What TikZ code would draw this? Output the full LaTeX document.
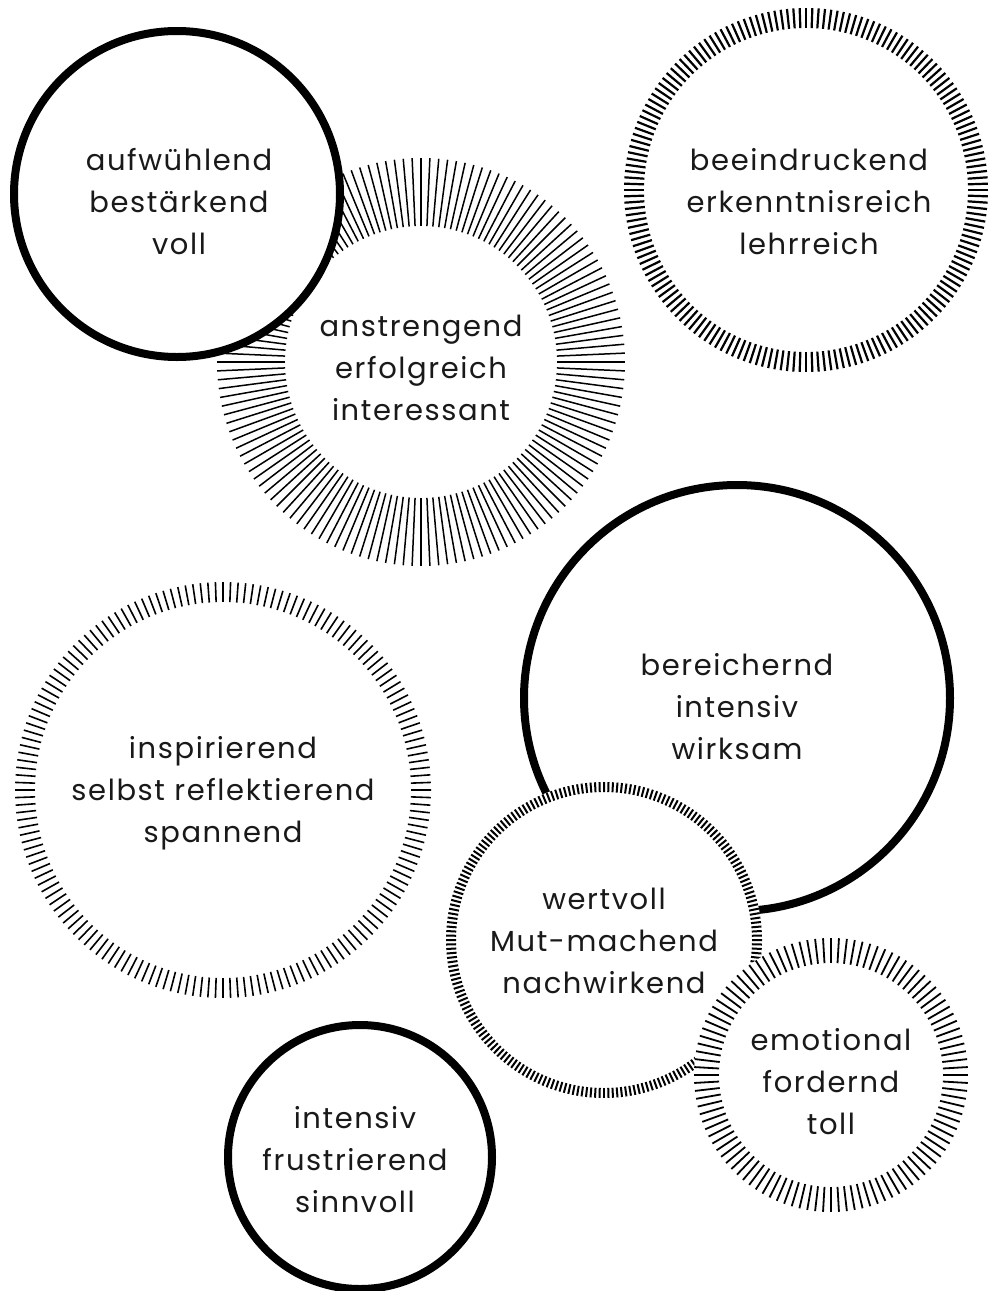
\documentclass[tikz,border=0pt]{standalone}
\usepackage{fontspec}
\setmainfont[LetterSpace=5.5]{Poppins}
\newcommand\tickring[7]{%
  \node[ringbase, minimum size=2*#5] (#1) at (#2,#3) {};
  \foreach \i in {1,...,#6}{
    \pgfmathsetmacro\ang{(360/#6)*\i}
    \draw[line width=#7] ([shift={(\ang:#4)}]#1.center) -- ([shift={(\ang:#5)}]#1.center);
  }
}
\tikzset{
  ringbase/.style={circle, fill=white, inner sep=0pt, outer sep=0pt},
  solidc/.style={circle, draw=black, fill=white, line width=8pt, inner sep=0pt, outer sep=0pt},
  txt/.style={align=center, font=\fontsize{29}{42}\selectfont, text=black!90, inner sep=0pt}
}
\begin{document}
\begin{tikzpicture}[x=1pt, y=-1pt]
\fill[white] (0,0) rectangle (988,1291);
\useasboundingbox (0,0) rectangle (988,1291);
% ring 2
\tickring{r2}{421}{362}{136}{204}{144}{1.5pt}
\node[txt] (t2) at (421,368) {anstrengend\\erfolgreich\\interessant};
% circle 1
\node[solidc, minimum size=326pt] (c1) at (177,194) {};
\node[txt] (t1) at (179,202) {aufwühlend\\bestärkend\\voll};
% ring 3
\tickring{r3}{806}{190}{162}{182}{180}{2.2pt}
\node[txt] (t3) at (809,202) {beeindruckend\\erkenntnisreich\\lehrreich};
% ring 5
\tickring{r5}{223}{790}{188}{208}{172}{1.6pt}
\node[txt] (t5) at (223,793) {inspirierend\\selbst reflektierend\\spannend};
% circle 4
\node[solidc, minimum size=426pt] (c4) at (737,698) {};
\node[txt] (t4) at (737,707) {bereichernd\\intensiv\\wirksam};
% ring 6
\tickring{r6}{604}{940}{148}{158}{220}{2.0pt}
\node[txt] (t6) at (604,941) {wertvoll\\Mut-machend\\nachwirkend};
% ring 7
\tickring{r7}{831}{1075}{112}{137}{108}{1.8pt}
\node[txt] (t7) at (831,1082) {emotional\\fordernd\\toll};
% circle 8
\node[solidc, minimum size=264pt] (c8) at (360,1157) {};
\node[txt] (t8) at (355,1160) {intensiv\\frustrierend\\sinnvoll};
\end{tikzpicture}
\end{document}
